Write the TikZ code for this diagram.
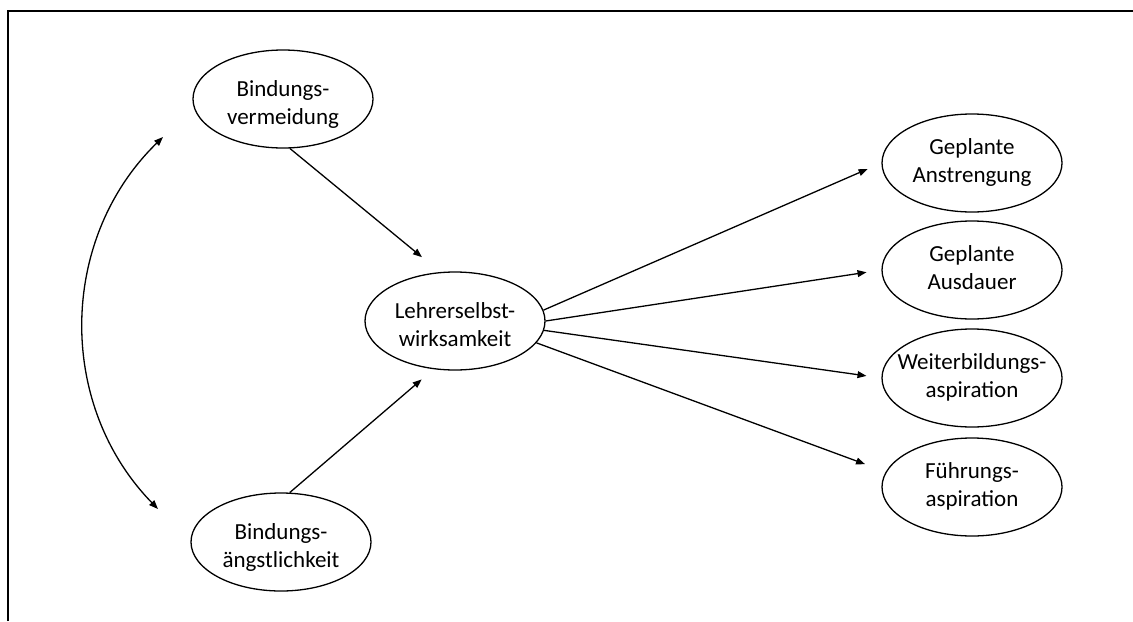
\documentclass[tikz,border=0pt]{standalone}
\usepackage{fontspec}
\setmainfont{Carlito}
\usepackage{tikz}
\usetikzlibrary{arrows.meta, shapes.geometric}

% two-line label with fixed line extents (first line height, last line depth)
\newcommand{\twolines}[3][14.2pt]{\rule{0pt}{#1}#2\\#3\rule[-3pt]{0pt}{3pt}}

\begin{document}
\begin{tikzpicture}[x=0.5pt, y=-0.5pt,
  every node/.style={font=\fontsize{11.5pt}{14.2pt}\selectfont},
  >={Triangle[length=4.5pt, width=3.4pt]},
  construct/.style={draw, ellipse, line width=0.65pt, minimum width=90pt, minimum height=49pt, inner xsep=-8pt, inner ysep=0pt, align=center},
  path/.style={->, line width=0.65pt}]
  \useasboundingbox (0,0) rectangle (1133,621);
  % frame (top and left edge only)
  \draw[line width=1.2pt] (8,621) -- (8,11) -- (1133,11);

  % Left: attachment dimensions
  \node[construct] (vermeid) at (283,99) {\twolines{Bindungs-}{vermeidung}};
  \node[construct] (angst) at (281,542) {\twolines{Bindungs-}{ängstlichkeit}};
  \coordinate (covTop) at (163,137);
  \coordinate (covBot) at (158,509);
  \draw[<->, line width=0.65pt] (covTop) to[bend right=45] (covBot);

  % Middle: self-efficacy
  \node[construct] (lehrer) at (455,321) {\twolines{Lehrerselbst-}{wirksamkeit}};
  \draw[path, shorten >=11.7pt] (vermeid.278) -- (lehrer.107);
  \draw[path, shorten >=7.8pt] (angst.80) -- (lehrer.246);

  % Right: outcomes
  \node[construct] (anstr) at (972,163) {\twolines[8.7pt]{Geplante}{Anstrengung}};
  \node[construct] (ausdauer) at (972,270) {\twolines[8.7pt]{Geplante}{Ausdauer}};
  \node[construct] (weiter) at (972,378) {\twolines[8.7pt]{Weiterbildungs-}{aspiration}};
  \node[construct] (fuehrung) at (972,487) {\twolines[8.7pt]{Führungs-}{aspiration}};
  \draw[path, shorten >=7.5pt] (lehrer.7) -- (anstr.west);
  \draw[path, shorten >=7.5pt] (lehrer.east) -- (ausdauer.west);
  \draw[path, shorten >=7.5pt] (lehrer.354) -- (weiter.west);
  \draw[path, shorten >=11pt] (lehrer.345) -- (fuehrung.170);
\end{tikzpicture}
\end{document}
